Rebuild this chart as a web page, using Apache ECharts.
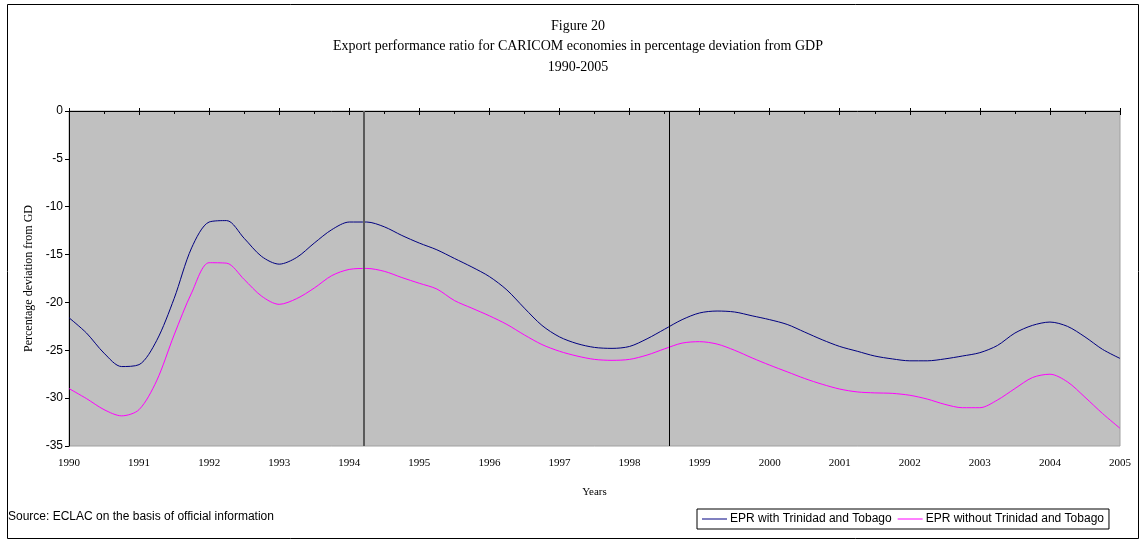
<!DOCTYPE html>
<html>
<head>
<meta charset="utf-8">
<script src="https://cdn.jsdelivr.net/npm/echarts@6/dist/echarts.min.js"></script>
<style>
  html, body { margin: 0; padding: 0; background: #fff; }
  #main { width: 1139px; height: 539px; }
</style>
</head>
<body>
<div id="main"></div>
<script>
// quarterly points, 1990.00 .. 2005.00
var years = [1990, 1991, 1992, 1993, 1994, 1995, 1996, 1997, 1998, 1999, 2000, 2001, 2002, 2003, 2004, 2005]
var withTT = [
  -21.6, -23.2, -25.3, -26.7,
  -26.5, -24.0, -19.6, -14.3,
  -11.6, -11.45, -13.3, -15.2,
  -16.0, -15.3, -13.8, -12.4,
  -11.6, -11.6, -12.1, -13.0,
  -13.8, -14.5, -15.4, -16.3,
  -17.3, -18.7, -20.6, -22.4,
  -23.6, -24.3, -24.7, -24.8,
  -24.6, -23.8, -22.8, -21.8,
  -21.1, -20.9, -21.0, -21.4,
  -21.8, -22.3, -23.1, -23.9,
  -24.6, -25.1, -25.6, -25.9,
  -26.1, -26.1, -25.9, -25.6,
  -25.25, -24.5, -23.2, -22.4,
  -22.05, -22.5, -23.6, -24.9,
  -25.85
]
var withoutTT = [
  -29.0, -30.05, -31.2, -31.85,
  -31.2, -28.2, -23.4, -19.0,
  -15.85, -15.9, -17.6, -19.35,
  -20.2, -19.6, -18.5, -17.2,
  -16.55, -16.45, -16.75, -17.4,
  -18.0, -18.6, -19.8, -20.6,
  -21.4, -22.3, -23.4, -24.4,
  -25.1, -25.6, -25.95, -26.05,
  -25.95, -25.5, -24.85, -24.25,
  -24.1, -24.35, -25.0, -25.8,
  -26.55, -27.25, -27.95, -28.55,
  -29.05, -29.35, -29.45, -29.5,
  -29.7, -30.1, -30.65, -31.0,
  -31.0, -30.2, -29.0, -27.85,
  -27.5, -28.3, -29.9, -31.6,
  -33.15
]
var markYears = [1994.21, 1998.56]
var titleLines = ['Figure 20', 'Export performance ratio for CARICOM economies in percentage deviation from GDP', '1990-2005']

var serif = 'Liberation Serif'
var sans = 'Liberation Sans'

function toPairs(vals) {
  return vals.map((v, i) => [years[0] + i * 0.25, v])
}

var myChart = echarts.init(document.getElementById('main'))

var option = {
  backgroundColor: '#fff',
  animation: false,
  legend: {
    left: 697, top: 509,
    padding: [4, 5, 4, 5],
    borderColor: '#000', borderWidth: 1,
    itemWidth: 25, itemHeight: 1, itemGap: 6,
    icon: 'rect',
    textStyle: { fontFamily: sans, fontSize: 12, color: '#000', padding: [0, 0, 0, -2] },
    data: ['EPR with Trinidad and Tobago', 'EPR without Trinidad and Tobago']
  },
  grid: {
    left: 69, right: 19, top: 111, bottom: 93,
    show: true, backgroundColor: '#c0c0c0', borderColor: '#a0a0a0', borderWidth: 1
  },
  xAxis: [{
    type: 'value', min: 1990, max: 2005, interval: 1,
    position: 'bottom',
    name: 'Years', nameLocation: 'middle', nameGap: 41,
    nameTextStyle: { fontFamily: serif, fontSize: 11, color: '#000' },
    axisLine: { show: false }, axisTick: { show: false }, splitLine: { show: false },
    axisLabel: { margin: 12, fontFamily: serif, fontSize: 11, color: '#000', formatter: v => String(v) }
  }, {
    type: 'value', min: 1990, max: 2005, interval: 1,
    position: 'top',
    axisLine: { show: true, lineStyle: { color: '#000', width: 1 } },
    axisTick: { show: true, inside: true, length: 4, lineStyle: { color: '#000' } },
    minorTick: { show: true, splitNumber: 2, length: 3, lineStyle: { color: '#000' } },
    axisLabel: { show: false }, splitLine: { show: false }
  }, {
    type: 'value', min: 1990, max: 2005, interval: 1,
    position: 'top',
    axisLine: { show: false },
    axisTick: { show: true, inside: false, length: 3, lineStyle: { color: '#000' } },
    axisLabel: { show: false }, splitLine: { show: false }
  }],
  yAxis: {
    type: 'value', min: -35, max: 0, interval: 5,
    name: 'Percentage deviation from GD', nameLocation: 'middle', nameGap: 33,
    nameTextStyle: { fontFamily: serif, fontSize: 12, color: '#000' },
    axisLine: { show: true, lineStyle: { color: '#000', width: 1 } },
    axisTick: { show: true, length: 4, lineStyle: { color: '#000' } },
    splitLine: { show: false },
    axisLabel: { margin: 6, fontFamily: sans, fontSize: 12, color: '#000' }
  },
  series: [{
    name: 'EPR with Trinidad and Tobago',
    type: 'line', data: toPairs(withTT),
    smooth: 0.3, showSymbol: false,
    lineStyle: { color: '#000080', width: 1 },
    itemStyle: { color: '#000080' },
    markLine: {
      silent: true, symbol: 'none', label: { show: false },
      data: [
        { xAxis: markYears[0], lineStyle: { color: '#5a5a5a', width: 2, type: 'solid' } },
        { xAxis: markYears[1], lineStyle: { color: '#000', width: 1, type: 'solid' } }
      ]
    }
  }, {
    name: 'EPR without Trinidad and Tobago',
    type: 'line', data: toPairs(withoutTT),
    smooth: 0.3, showSymbol: false,
    lineStyle: { color: '#ff00ff', width: 1 },
    itemStyle: { color: '#ff00ff' }
  }],
  graphic: [{
    type: 'rect', left: 5, top: 2, z: -1,
    shape: { width: 1131, height: 534 },
    style: { fill: 'none', stroke: '#000', lineWidth: 1 }
  }, {
    type: 'text', left: 8, top: 511,
    style: { text: 'Source: ECLAC on the basis of official information', font: '12px "Liberation Sans"', fill: '#000' }
  }].concat(titleLines.map((t, i) => ({
    type: 'text', x: 578, y: 26 + i * 20.8,
    style: { text: t, font: '14px "Liberation Serif"', fill: '#000', align: 'center', verticalAlign: 'middle' }
  })))
}

myChart.setOption(option)
</script>
</body>
</html>
